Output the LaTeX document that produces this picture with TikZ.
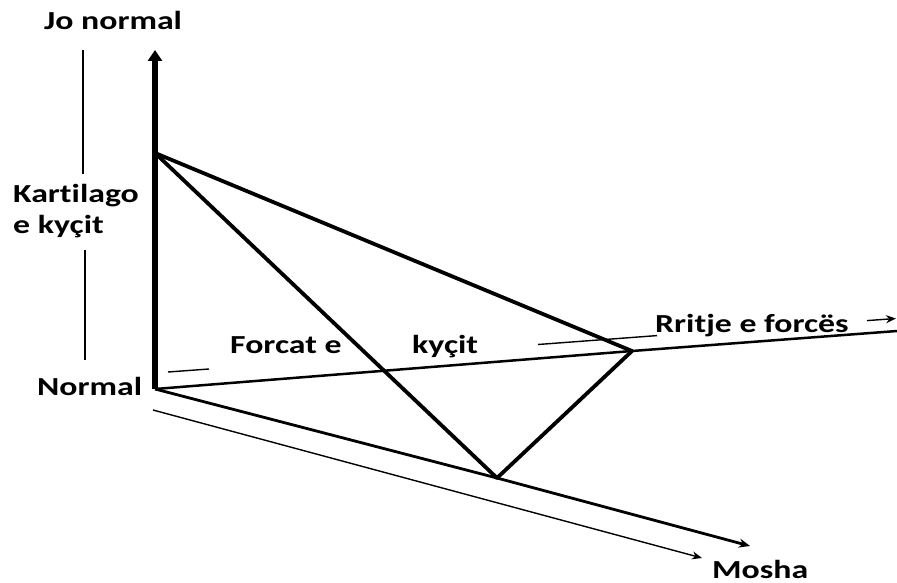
\documentclass[tikz,border=0pt]{standalone}
\usepackage{fontspec}
\setmainfont{Carlito}[Ligatures=NoCommon]
\usetikzlibrary{arrows.meta}
\tikzset{
  lbl/.style={inner sep=0pt, anchor=base west, font=\fontsize{26}{28}\selectfont\bfseries},
  edge/.style={line width=3.8pt, line cap=round, line join=round},
  axis/.style={line width=2.5pt},
  thin/.style={line width=1.4pt},
}
\newcommand{\wide}[1]{\scalebox{1.3}[1]{#1}}
\begin{document}
\begin{tikzpicture}[x=1pt,y=-1pt]
\useasboundingbox (0,0) rectangle (897,583);
% key points
\coordinate (O) at (155,389);
\coordinate (T) at (155,153);
\coordinate (R) at (632,351);
\coordinate (B) at (497,478);
\coordinate (Vtop) at (155,50);
\coordinate (Hend) at (897,331);
\coordinate (Mend) at (750,546);
\coordinate (L1) at (153,410);
\coordinate (L2) at (702,558);
\coordinate (U1) at (168,372);
\coordinate (U2) at (209,369);
\coordinate (U3) at (538,344.5);
\coordinate (U4) at (657,335.6);
\coordinate (U5) at (867,320.6);
\coordinate (U6) at (896,318.5);
\coordinate (V1a) at (83,50);
\coordinate (V1b) at (83,174);
\coordinate (V2a) at (85,250);
\coordinate (V2b) at (85,360);
% axes
\draw[line width=6pt,-{Triangle[width=14pt,length=11pt]}] (O) -- (Vtop);
\draw[axis] (O) -- (R) -- (Hend);
\draw[line width=2.8pt,-{Stealth[width=9pt,length=11pt]}] (O) -- (B) -- (Mend);
% triangle edges
\draw[edge] (T) -- (R);
\draw[edge] (T) -- (B);
\draw[edge] (R) -- (B);
% thin guide lines
\draw[thin,-{Stealth[width=8pt,length=10pt]}] (L1) -- (L2);
\draw[thin] (U1) -- (U2);
\draw[thin] (U3) -- (U4);
\draw[thin,-{Stealth[width=8pt,length=10pt]}] (U5) -- (U6);
\draw[line width=1.1pt] (V1a) -- (V1b);
\draw[line width=1.1pt] (V2a) -- (V2b);
% labels
\node[lbl] (jo) at (44,30) {\wide{Jo normal}};
\node[lbl] (kart) at (13,202) {\wide{Kartilago}};
\node[lbl] (ekyc) at (13,233) {\wide{e kyçit}};
\node[lbl] (norm) at (37,395) {\wide{Normal}};
\node[lbl] (forc) at (230,353) {\wide{Forcat e}};
\node[lbl] (kyc) at (412,353) {\wide{kyçit}};
\node[lbl] (rrit) at (655,332) {\wide{Rritje e forcës}};
\node[lbl] (mosh) at (712,578) {\wide{Mosha}};
\end{tikzpicture}
\end{document}
